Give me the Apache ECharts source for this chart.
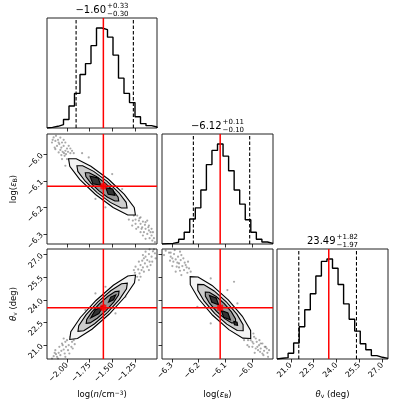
<!DOCTYPE html>
<html><head><meta charset="utf-8">
<script src="https://cdn.jsdelivr.net/npm/echarts@6/dist/echarts.min.js"></script>
<style>html,body{margin:0;padding:0;background:#fff}#c{width:397px;height:408px}</style>
</head><body><div id="c"></div>
<script>
// ---------------- DATA ----------------
const logNRange = [-2.22, -1.01];
const logEpsRange = [-6.337, -5.923];
const thetaRange = [20.09, 27.38];
const logNTicks = [-2.00, -1.75, -1.50, -1.25];
const logEpsTicks = [-6.3, -6.2, -6.1, -6.0];
const thetaTicks = [21.0, 22.5, 24.0, 25.5, 27.0];
const truthValues = [-1.60, -6.12, 23.49];
const logNQuantiles = [-1.90, -1.27];
const logEpsQuantiles = [-6.22, -6.01];
const thetaQuantiles = [21.52, 25.31];
const logNTitle = ['\u22121.60', '+0.33', '\u22120.30'];
const logEpsTitle = ['\u22126.12', '+0.11', '\u22120.10'];
const thetaTitle = ['23.49', '+1.82', '\u22121.97'];
// 20-bin histogram heights (relative counts)
const logNHist = [2, 5, 10, 25, 65, 102, 158, 190, 243, 295, 290, 268, 215, 147, 102, 75, 33, 13, 7, 3];
const logEpsHist = [1, 2, 5, 14, 35, 74, 107, 160, 235, 277, 296, 260, 217, 160, 118, 72, 35, 14, 6, 2];
const thetaHist = [2, 4, 17, 47, 95, 145, 192, 244, 287, 294, 267, 219, 162, 117, 82, 45, 27, 10, 5, 2];

// contour polygons (data coordinates): outer (2 sigma), 1.5 sigma, 1 sigma, cores
const contoursNEps = [
  [[-1.247,-6.228],[-1.2607,-6.1995],[-1.3693,-6.1502],[-1.5438,-6.0934],[-1.7373,-6.0442],[-1.8981,-6.0159],[-1.983,-6.016],[-1.9693,-6.0445],[-1.8607,-6.0938],[-1.6862,-6.1506],[-1.4927,-6.1998],[-1.3319,-6.2281]],
  [[-1.339,-6.2015],[-1.3493,-6.1801],[-1.4307,-6.1432],[-1.5616,-6.1005],[-1.7067,-6.0636],[-1.8273,-6.0424],[-1.891,-6.0425],[-1.8807,-6.0639],[-1.7993,-6.1008],[-1.6684,-6.1435],[-1.5233,-6.1804],[-1.4027,-6.2016]],
  [[-1.431,-6.175],[-1.4378,-6.1608],[-1.4921,-6.1361],[-1.5794,-6.1077],[-1.6762,-6.0831],[-1.7566,-6.0689],[-1.799,-6.069],[-1.7922,-6.0832],[-1.7379,-6.1079],[-1.6506,-6.1363],[-1.5538,-6.1609],[-1.4734,-6.1751]],
  [[-1.627,-6.116],[-1.659,-6.088],[-1.747,-6.082],[-1.715,-6.110]],
  [[-1.472,-6.154],[-1.497,-6.130],[-1.572,-6.126],[-1.547,-6.150]]
];
const contoursNTheta = [
  [[-1.246,25.654],[-1.2578,25.144],[-1.3635,24.199],[-1.5347,23.072],[-1.7255,22.065],[-1.8848,21.448],[-1.970,21.386],[-1.9582,21.896],[-1.8525,22.841],[-1.6813,23.968],[-1.4905,24.975],[-1.3312,25.592]],
  [[-1.3365,25.1205],[-1.3453,24.738],[-1.4246,24.0293],[-1.553,23.184],[-1.6961,22.4287],[-1.8156,21.966],[-1.8795,21.9195],[-1.8707,22.302],[-1.7914,23.0107],[-1.663,23.856],[-1.5199,24.6113],[-1.4004,25.074]],
  [[-1.427,24.587],[-1.4329,24.332],[-1.4857,23.8595],[-1.5713,23.296],[-1.6668,22.7925],[-1.7464,22.484],[-1.789,22.453],[-1.7831,22.708],[-1.7303,23.1805],[-1.6447,23.744],[-1.5492,24.2475],[-1.4696,24.556]],
  [[-1.599,23.629],[-1.649,23.099],[-1.739,22.809],[-1.689,23.339]],
  [[-1.463,24.344],[-1.488,24.014],[-1.543,23.864],[-1.518,24.194]]
];
const contoursEpsTheta = [
  [[-6.006,21.453],[-6.0065,21.9828],[-6.0373,22.919],[-6.0899,24.011],[-6.1503,24.966],[-6.2024,25.5282],[-6.232,25.547],[-6.2315,25.0172],[-6.2007,24.081],[-6.1481,22.989],[-6.0877,22.034],[-6.0356,21.4718]],
  [[-6.0342,21.9647],[-6.0346,22.3621],[-6.0577,23.0642],[-6.0972,23.8833],[-6.1425,24.5995],[-6.1816,25.0212],[-6.2038,25.0353],[-6.2034,24.6379],[-6.1803,23.9358],[-6.1408,23.1167],[-6.0955,22.4005],[-6.0564,21.9788]],
  [[-6.0625,22.4765],[-6.0627,22.7414],[-6.0781,23.2095],[-6.1045,23.7555],[-6.1347,24.233],[-6.1607,24.5141],[-6.1755,24.5235],[-6.1753,24.2586],[-6.1599,23.7905],[-6.1336,23.2445],[-6.1033,22.767],[-6.0773,22.4859]],
  [[-6.126,23.686],[-6.135,24.133],[-6.160,24.300],[-6.151,23.853]],
  [[-6.082,22.691],[-6.091,23.138],[-6.116,23.305],[-6.107,22.858]],
  [[-6.055,22.315],[-6.057,22.535],[-6.069,22.575],[-6.067,22.355]]
];
// sample points outside the outer contours
const samplesNEps = [
  [-2.147,-5.936],[-2.128,-5.949],[-2.099,-5.945],[-2.084,-5.961],[-2.110,-5.968],[-2.055,-5.955],[-2.062,-5.974],[-2.037,-5.968],[-2.018,-5.986],[-2.048,-5.990],[-2.000,-5.978],[-2.073,-5.983],[-2.011,-5.999],[-2.026,-6.005],[-2.092,-5.955],[-1.989,-5.990],[-1.963,-5.995],[-2.033,-5.995],
  [-2.1652,-5.955],[-2.1358,-5.9738],[-2.1211,-5.930],[-2.0733,-5.9363],[-2.0365,-5.945],[-1.9813,-5.9675],[-1.9630,-5.9775],[-2.0622,-6.0025],[-2.0916,-5.9925],[-2.1284,-5.98],[-1.9997,-6.0175],[-1.9446,-5.9863],[-1.9262,-5.995],[-2.0549,-6.0175],[-2.1578,-5.945],[-2.0181,-5.955],
  [-1.338,-6.2175],[-1.301,-6.2075],[-1.246,-6.245],[-1.209,-6.249],[-1.228,-6.230],[-1.191,-6.261],[-1.165,-6.2525],[-1.1725,-6.274],[-1.136,-6.280],[-1.143,-6.265],[-1.099,-6.286],[-1.117,-6.299],[-1.070,-6.305],[-1.044,-6.315],[-1.081,-6.2925],[-1.202,-6.240],[-1.2755,-6.249],[-1.246,-6.261],[-1.154,-6.2925],[-1.106,-6.274],[-1.062,-6.324],[-1.180,-6.280],
  [-1.3196,-6.245],[-1.2828,-6.2675],[-1.2387,-6.280],[-1.1909,-6.2925],[-1.1358,-6.3175],[-1.0916,-6.315],[-1.0549,-6.2925],[-1.0328,-6.330],[-1.1358,-6.255],[-1.099,-6.2675],[-1.0696,-6.280],[-1.2166,-6.2738],[-1.1652,-6.305],[-1.2644,-6.230],[-1.1909,-6.2363],[-1.1174,-6.2488],
  [-1.834,-5.995],[-1.761,-6.011],[-2.018,-6.0425],[-1.889,-6.0675],[-1.503,-6.074],[-1.393,-6.130],[-1.687,-6.1675],[-1.577,-6.199]
];
const samplesNTheta = [
  [-1.2534,25.807],[-1.2166,26.029],[-1.1909,26.316],[-1.1725,26.604],[-1.1431,26.427],[-1.1358,26.869],[-1.1174,26.648],[-1.099,27.046],[-1.0696,26.869],[-1.0549,27.223],[-1.0328,27.091],[-1.1652,26.161],[-1.2019,25.763],[-1.0916,26.537],[-1.1541,26.759],[-1.2277,25.542],[-1.0438,27.356],[-1.1799,25.984],
  [-1.2755,25.431],[-1.2461,26.206],[-1.2093,26.537],[-1.1909,25.542],[-1.1541,25.874],[-1.1174,26.206],[-1.0806,26.316],[-1.1358,27.201],[-1.0916,27.356],[-1.0255,26.759],[-1.0622,26.537],[-1.2093,25.321],[-1.1652,26.980],[-1.099,25.984],[-1.2644,25.984],[-1.0071,27.201],
  [-1.9446,21.228],[-1.9813,21.006],[-2.0108,20.896],[-2.0365,20.719],[-2.0622,20.630],[-2.0916,20.498],[-2.1211,20.409],[-2.1468,20.276],[-2.0255,20.453],[-2.0733,20.343],[-1.9887,20.675],[-1.9519,20.896],[-2.11,20.232],[-2.0475,21.006],[-1.9152,21.073],[-2.0181,21.228],
  [-2.1284,20.675],[-2.0843,20.896],[-2.0549,21.117],[-1.9997,21.338],[-1.963,21.560],[-1.9262,21.338],[-2.0181,20.232],[-2.1652,20.122],[-1.974,20.453],[-2.099,20.122],[-1.8894,21.560],[-2.0365,21.449],[-2.1358,20.498],[-1.9372,20.785],
  [-1.6872,24.436],[-1.7975,23.330],[-1.4666,23.108],[-1.3564,24.214],[-1.8711,22.445],[-1.5769,24.878]
];
const samplesEpsTheta = [
  [-6.3232,27.268],[-6.3108,27.135],[-6.3046,26.869],[-6.2921,27.046],[-6.2859,26.692],[-6.2772,26.869],[-6.2946,26.537],[-6.2735,26.427],[-6.2673,26.648],[-6.2611,26.250],[-6.2822,26.206],[-6.2548,25.984],[-6.2486,26.316],[-6.2698,25.940],[-6.2424,25.807],[-6.2984,26.759],[-6.2648,26.980],[-6.2362,26.095],
  [-6.3295,26.980],[-6.317,27.422],[-6.3071,26.604],[-6.2897,27.312],[-6.2797,26.471],[-6.2698,27.201],[-6.2573,26.759],[-6.2523,26.471],[-6.2984,26.250],[-6.2859,25.874],[-6.2648,25.652],[-6.2449,26.161],[-6.23,25.874],[-6.2399,26.537],[-6.2735,26.161],[-6.3046,27.135],
  [-6.0247,21.670],[-6.0123,21.825],[-6.0061,21.338],[-5.9936,21.560],[-5.9961,21.117],[-5.9837,21.228],[-5.975,21.006],[-5.9812,20.896],[-5.9688,20.785],[-5.9625,21.117],[-5.9563,20.630],[-5.9501,20.896],[-5.9439,20.498],[-5.9713,20.564],[-5.9874,20.785],[-6.016,21.338],[-5.9999,20.896],[-5.9588,20.343],
  [-6.0309,21.338],[-6.0185,21.006],[-6.0086,21.670],[-5.9999,21.228],[-5.9874,21.449],[-5.9787,20.675],[-5.9688,21.117],[-5.9538,20.896],[-5.9464,20.785],[-5.9414,20.232],[-5.9912,20.498],[-5.9737,21.338],[-6.0123,20.896],[-5.9625,20.453],[-5.9377,20.675],[-5.9961,21.781],
  [-6.1553,25.431],[-6.0931,24.657],[-6.0558,23.772],[-6.2051,23.551],[-6.1553,22.445],[-6.0683,25.210],[-6.1926,24.436]
];

// ---------------- STYLE / LAYOUT ----------------
const FONT = 'DejaVu Sans';
const colLeft = [47, 162, 277];
const colW = [110, 111, 111];
const rowTop = [18, 134, 249];
const PH = 110;
const TICK_FS = 7.8, NAME_FS = 8.5;
const contourFills = ['#f3f3f3', '#cdcdcd', '#979797', '#333333', '#333333', '#333333'];

const fmt = (v, d) => v.toFixed(d).replace('-', '\u2212');
const nameRich = {
  r: {fontSize: NAME_FS, fontFamily: FONT, color: '#000'},
  i: {fontSize: NAME_FS, fontFamily: FONT, fontStyle: 'italic', color: '#000'},
  sup: {fontSize: NAME_FS * 0.7, fontFamily: FONT, verticalAlign: 'top', color: '#000'},
  sub: {fontSize: NAME_FS * 0.7, fontFamily: FONT, verticalAlign: 'bottom', color: '#000'}
};
const nameLogN = '{r|log(}{i|n}{r|/cm}{sup|\u22123}{r|)}';
const nameLogEps = '{r|log(}{i|\u03b5}{sub|B}{r|)}';
const nameTheta = '{i|\u03b8}{sub|v}{r| (deg)}';

// panels: [row, col]
const panels = [[0,0],[1,0],[1,1],[2,0],[2,1],[2,2]];
const grid = panels.map(([r,c]) => ({
  left: colLeft[c], top: rowTop[r], width: colW[c], height: PH,
  show: true, borderColor: '#222', borderWidth: 1, backgroundColor: 'transparent',
  containLabel: false, outerBoundsMode: 'none'
}));

function xAx(gi, range, ticks, dec, showLab, name) {
  return {
    gridIndex: gi, type: 'value', min: range[0], max: range[1],
    axisLine: {show: false, onZero: false}, splitLine: {show: false},
    axisTick: {show: true, customValues: ticks, length: 3.5, lineStyle: {color: '#000', width: 0.8}},
    axisLabel: {show: showLab, customValues: ticks, rotate: 45, margin: 5, fontSize: TICK_FS,
      fontFamily: FONT, color: '#000', formatter: v => fmt(v, dec)},
    name: name || '', nameLocation: 'middle', nameGap: 31,
    nameTextStyle: {rich: nameRich, fontSize: NAME_FS, fontFamily: FONT, color: '#000'}
  };
}
function yAx(gi, range, ticks, dec, showLab, name) {
  return {
    gridIndex: gi, type: 'value', min: range[0], max: range[1],
    axisLine: {show: false, onZero: false}, splitLine: {show: false},
    axisTick: {show: !!ticks, customValues: ticks || [], length: 3.5, lineStyle: {color: '#000', width: 0.8}},
    axisLabel: {show: showLab, customValues: ticks || [], rotate: 45, margin: 5, fontSize: TICK_FS,
      fontFamily: FONT, color: '#000', formatter: v => fmt(v, dec)},
    name: name || '', nameLocation: 'middle', nameGap: 29, nameRotate: 90,
    nameTextStyle: {rich: nameRich, fontSize: NAME_FS, fontFamily: FONT, color: '#000'}
  };
}
const hmax = h => Math.max(...h) * 1.1;

const xAxis = [
  xAx(0, logNRange, logNTicks, 2, false),
  xAx(1, logNRange, logNTicks, 2, false),
  xAx(2, logEpsRange, logEpsTicks, 1, false),
  xAx(3, logNRange, logNTicks, 2, true, nameLogN),
  xAx(4, logEpsRange, logEpsTicks, 1, true, nameLogEps),
  xAx(5, thetaRange, thetaTicks, 1, true, nameTheta)
];
const yAxis = [
  yAx(0, [0, hmax(logNHist)], null, 0, false),
  yAx(1, logEpsRange, logEpsTicks, 1, true, nameLogEps),
  yAx(2, [0, hmax(logEpsHist)], null, 0, false),
  yAx(3, thetaRange, thetaTicks, 1, true, nameTheta),
  yAx(4, thetaRange, thetaTicks, 1, false),
  yAx(5, [0, hmax(thetaHist)], null, 0, false)
];

const series = [];
function histSeries(gi, counts, range, quant, truth) {
  const n = counts.length, w = (range[1] - range[0]) / n;
  const d = [[range[0], 0]];
  counts.forEach((c, i) => d.push([range[0] + i * w, c]));
  d.push([range[1], counts[n - 1]]);
  d.push([range[1], 0]);
  const top = hmax(counts);
  series.push({type: 'line', xAxisIndex: gi, yAxisIndex: gi, data: d, step: 'end', showSymbol: false,
    lineStyle: {color: '#000', width: 1.4}, z: 2, silent: true, clip: true});
  quant.forEach(q => series.push({type: 'line', xAxisIndex: gi, yAxisIndex: gi, data: [[q, 0], [q, top]],
    showSymbol: false, lineStyle: {color: '#000', width: 1.1, type: [3.5, 2]}, z: 3, silent: true}));
  series.push({type: 'line', xAxisIndex: gi, yAxisIndex: gi, data: [[truth, 0], [truth, top]],
    showSymbol: false, lineStyle: {color: '#ff0000', width: 1.5}, z: 4, silent: true});
}
function panel2d(gi, samples, polys, xr, yr, tx, ty) {
  series.push({type: 'scatter', xAxisIndex: gi, yAxisIndex: gi, data: samples, symbolSize: 2.2,
    itemStyle: {color: 'rgba(0,0,0,0.42)'}, z: 1, silent: true});
  series.push({type: 'custom', xAxisIndex: gi, yAxisIndex: gi, coordinateSystem: 'cartesian2d',
    data: polys.map((p, i) => [p[0][0], p[0][1], i]), encode: {x: 0, y: 1}, z: 2, silent: true, clip: true,
    renderItem: (params, api) => {
      const i = api.value(2);
      return {type: 'polygon', shape: {points: polys[i].map(v => api.coord(v))},
        style: {fill: contourFills[i], stroke: '#000', lineWidth: 1.1}};
    }});
  series.push({type: 'line', xAxisIndex: gi, yAxisIndex: gi, data: [[tx, yr[0]], [tx, yr[1]]],
    showSymbol: false, lineStyle: {color: '#ff0000', width: 1.5}, z: 5, silent: true});
  series.push({type: 'line', xAxisIndex: gi, yAxisIndex: gi, data: [[xr[0], ty], [xr[1], ty]],
    showSymbol: false, lineStyle: {color: '#ff0000', width: 1.5}, z: 5, silent: true});
  series.push({type: 'scatter', xAxisIndex: gi, yAxisIndex: gi, data: [[tx, ty]], symbol: 'rect', symbolSize: 6,
    itemStyle: {color: '#ff0000'}, z: 6, silent: true});
}
histSeries(0, logNHist, logNRange, logNQuantiles, truthValues[0]);
panel2d(1, samplesNEps, contoursNEps, logNRange, logEpsRange, truthValues[0], truthValues[1]);
histSeries(2, logEpsHist, logEpsRange, logEpsQuantiles, truthValues[1]);
panel2d(3, samplesNTheta, contoursNTheta, logNRange, thetaRange, truthValues[0], truthValues[2]);
panel2d(4, samplesEpsTheta, contoursEpsTheta, logEpsRange, thetaRange, truthValues[1], truthValues[2]);
histSeries(5, thetaHist, thetaRange, thetaQuantiles, truthValues[2]);

// titles above histograms
const ctx = document.createElement('canvas').getContext('2d');
function tw(t, s) { ctx.font = s + 'px "' + FONT + '"'; return ctx.measureText(t).width; }
const TITLE_FS = 10, SMALL_FS = 7;
const graphic = [];
[[logNTitle, 0], [logEpsTitle, 1], [thetaTitle, 2]].forEach(([t, k]) => {
  const cx = colLeft[k] + colW[k] / 2, top = rowTop[k];
  const wm = tw(t[0], TITLE_FS), ws = Math.max(tw(t[1], SMALL_FS), tw(t[2], SMALL_FS));
  const x0 = cx - (wm + ws + 1) / 2;
  graphic.push({type: 'text', x: x0, y: top - 7.5, silent: true,
    style: {text: t[0], fontSize: TITLE_FS, fontFamily: FONT, fill: '#000', align: 'left', verticalAlign: 'middle'}});
  graphic.push({type: 'text', x: x0 + wm + 1, y: top - 11.5, silent: true,
    style: {text: t[1], fontSize: SMALL_FS, fontFamily: FONT, fill: '#000', align: 'left', verticalAlign: 'middle'}});
  graphic.push({type: 'text', x: x0 + wm + 1, y: top - 4, silent: true,
    style: {text: t[2], fontSize: SMALL_FS, fontFamily: FONT, fill: '#000', align: 'left', verticalAlign: 'middle'}});
});

const chart = echarts.init(document.getElementById('c'), null, {renderer: 'canvas'});
chart.setOption({animation: false, backgroundColor: '#fff', grid, xAxis, yAxis, series, graphic});
</script></body></html>
